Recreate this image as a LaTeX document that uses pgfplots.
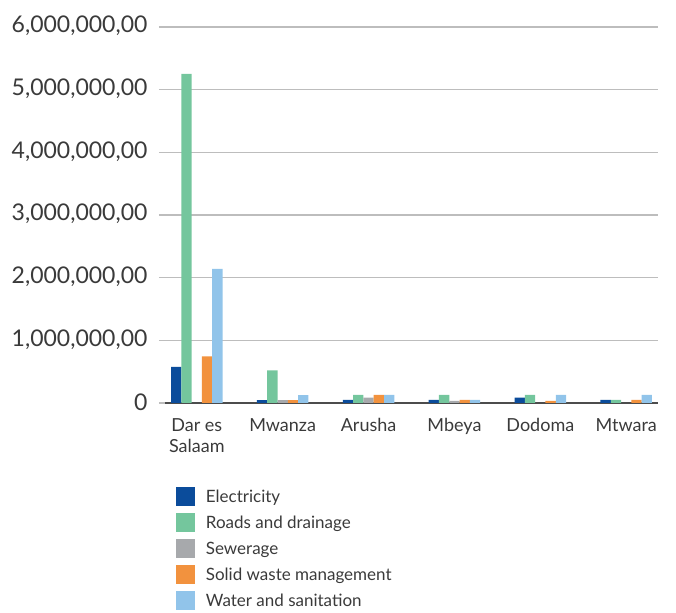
\documentclass[border=0pt]{standalone}
\usepackage{pgfplots}
\pgfplotsset{compat=1.18}
\usepackage{fontspec}
\setmainfont{Lato}
\definecolor{cElec}{HTML}{0B4C9B}
\definecolor{cRoad}{HTML}{74C69D}
\definecolor{cSew}{HTML}{A7A9AC}
\definecolor{cSolid}{HTML}{F2923E}
\definecolor{cWater}{HTML}{91C4EA}
\definecolor{txt}{HTML}{3A3A3A}
\definecolor{gridc}{HTML}{BDBDBD}
\begin{document}
\begin{tikzpicture}
\begin{axis}[
  name=ax,
  scale only axis,
  width=493pt, height=376pt,
  ybar=0pt, bar width=10.3pt,
  xmin=-0.37, xmax=5.37,
  ymin=0, ymax=6000000,
  xtick={0,1,2,3,4,5},
  xticklabels={{Dar es\\Salaam},Mwanza,Arusha,Mbeya,Dodoma,Mtwara},
  ytick={0,1000000,2000000,3000000,4000000,5000000,6000000},
  yticklabels={0,{1,000,000,00},{2,000,000,00},{3,000,000,00},{4,000,000,00},{5,000,000,00},{6,000,000,00}},
  scaled y ticks=false,
  axis x line*=bottom,
  axis y line*=left,
  y axis line style={draw=none},
  x axis line style={draw=black!70, line width=1.5pt},
  ymajorgrids,
  grid style={gridc, line width=1.2pt},
  major x tick style={draw=none},
  major y tick style={gridc, line width=1.2pt},
  tick align=outside,
  major tick length=6pt,
  xticklabel style={font=\fontsize{18}{21}\selectfont, text=txt, align=center, anchor=north, yshift=-6pt},
  yticklabel style={font=\fontsize{23}{26}\selectfont, text=txt, xshift=-8pt, yshift=1pt},
  legend style={draw=none, fill=none, at={(rel axis cs:0,0)}, anchor=north west, xshift=8pt, yshift=-82pt,
    font=\fontsize{17}{20}\selectfont, text=txt, legend cell align=left, row sep=7pt,
    /tikz/every even column/.append style={column sep=0pt}},
  legend image code/.code={\fill[#1] (0pt,-9.5pt) rectangle (19pt,9.5pt);},
  clip=false,
]
\coordinate (bl) at (rel axis cs:0,0);
\coordinate (tr) at (rel axis cs:1,1);
\addplot[draw=none, fill=cElec] coordinates {(0,575000) (1,45000) (2,50000) (3,50000) (4,85000) (5,50000)};
\addplot[draw=none, fill=cRoad] coordinates {(0,5250000) (1,520000) (2,130000) (3,130000) (4,130000) (5,50000)};
\addplot[draw=none, fill=cSew] coordinates {(1,45000) (2,85000) (3,35000)};
\addplot[draw=none, fill=cSolid] coordinates {(0,745000) (1,45000) (2,130000) (3,50000) (4,35000) (5,50000)};
\addplot[draw=none, fill=cWater] coordinates {(0,2140000) (1,125000) (2,130000) (3,50000) (4,130000) (5,130000)};
\legend{\ \ Electricity,\ \ Roads and drainage,\ \ Sewerage,\ \ Solid waste management,\ \ Water and sanitation}
\end{axis}
\pgfresetboundingbox
\path[use as bounding box] ([xshift=-165pt,yshift=-210pt]bl) rectangle ([xshift=18pt,yshift=27pt]tr);
\end{tikzpicture}
\end{document}
